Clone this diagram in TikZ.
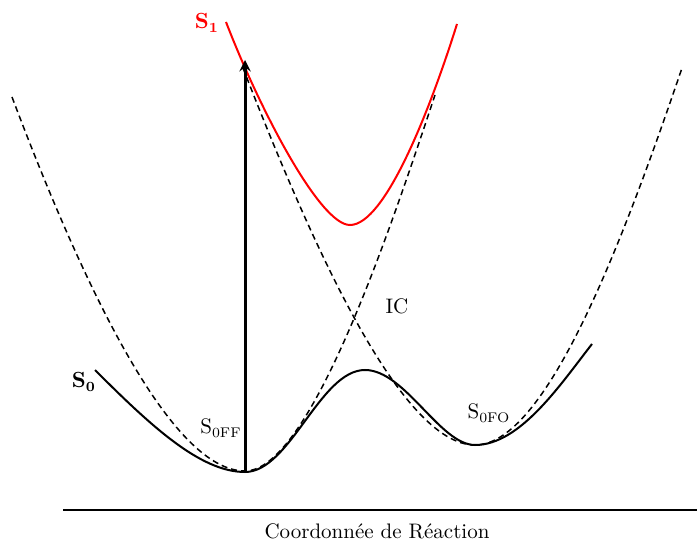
\documentclass[tikz,border=0pt]{standalone}
\usepackage{amsmath}
\begin{document}
\begin{tikzpicture}[>=stealth,x=0.5pt,y=-0.5pt,
    font=\fontsize{10.5}{12.6}\selectfont,
    pes/.style={line width=1pt},
    diab/.style={line width=0.75pt,dash pattern=on 3pt off 2pt}]
\useasboundingbox (0,0) rectangle (697,540);
% diabatic curves
\draw[diab] (12,97) .. controls (100,330) and (180,471) .. (245,471)
    .. controls (310,471) and (390,230) .. (435,95);
\draw[diab] (243,68) .. controls (310,240) and (400,445) .. (475,445)
    .. controls (545,445) and (620,250) .. (682,68);
% S1
\draw[pes,red] (226,22) .. controls (260,110) and (320,225) .. (350,225)
    .. controls (385,225) and (430,110) .. (457,24);
% S0
\draw[pes] (95,370) .. controls (150,425) and (200,472) .. (245,472)
    .. controls (290,472) and (320,370) .. (365,370)
    .. controls (405,370) and (440,445) .. (475,445)
    .. controls (520,445) and (560,385) .. (592,344);
% excitation
\coordinate (ff) at (245,472);
\coordinate (fc) at (245,60);
\draw[->,line width=1.5pt] (ff) -- (fc);
% axis
\coordinate (ax0) at (63,510);
\coordinate (ax1) at (697,510);
\draw[line width=1pt] (ax0) -- (ax1);
\node (rc) at (377,531) {Coordonnée de Réaction};
% labels
\node[red] (s1) at (207,23) {$\mathbf{S_1}$};
\node (s0) at (84,382) {$\mathbf{S_0}$};
\node (s0ff) at (221,428) {S$_{\mathrm{0FF}}$};
\node (s0fo) at (489,413) {S$_{\mathrm{0FO}}$};
\node (ic) at (397,306) {IC};
\end{tikzpicture}
\end{document}
